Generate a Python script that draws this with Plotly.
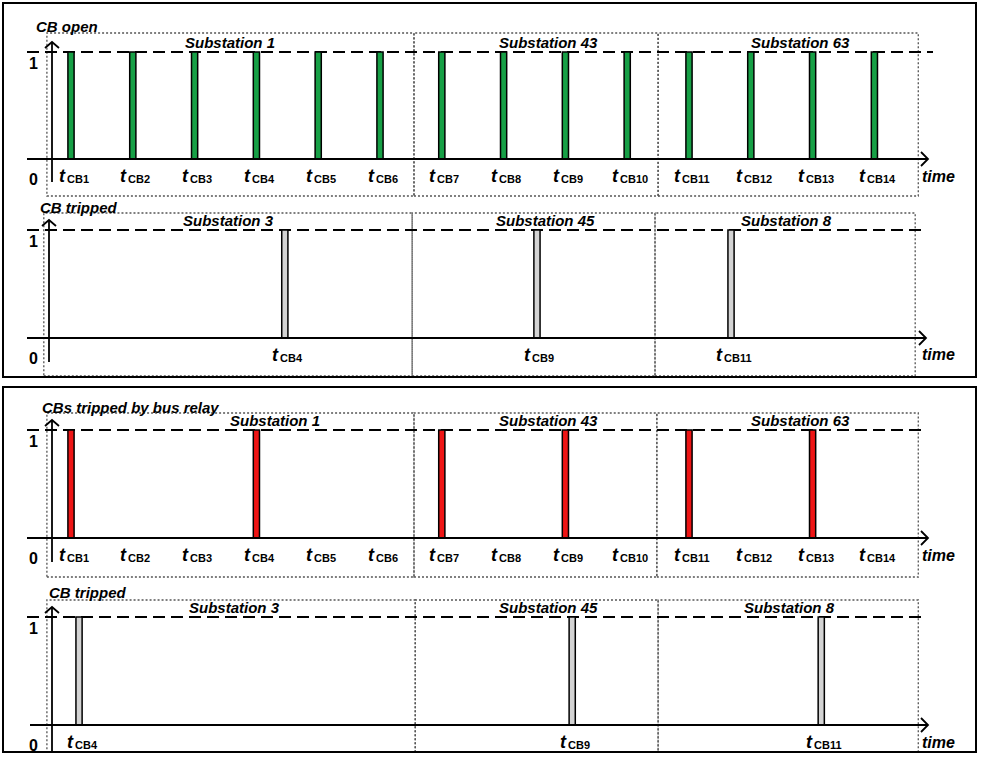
import plotly.graph_objects as go

W, H = 981, 766

# ---------------- data ----------------
cb_times = [1, 2, 3, 4, 5, 6, 7, 8, 9, 10, 11, 12, 13, 14]
cb_labels = ["CB1", "CB2", "CB3", "CB4", "CB5", "CB6", "CB7",
             "CB8", "CB9", "CB10", "CB11", "CB12", "CB13", "CB14"]

open_times = [1, 2, 3, 4, 5, 6, 7, 8, 9, 10, 11, 12, 13, 14]
open_values = [1, 1, 1, 1, 1, 1, 1, 1, 1, 1, 1, 1, 1, 1]

trip1_times = [4.46, 8.54, 11.68]
trip1_values = [1, 1, 1]
trip1_labels = ["CB4", "CB9", "CB11"]

relay_times = [1, 4, 7, 9, 11, 13]
relay_values = [1, 1, 1, 1, 1, 1]

trip2_times = [1.13, 9.11, 13.14]
trip2_values = [1, 1, 1]
trip2_labels = ["CB4", "CB9", "CB11"]

subs_open = ["Substation 1", "Substation 43", "Substation 63"]
subs_trip = ["Substation 3", "Substation 45", "Substation 8"]
# substation time spans (edges, in time units)
spans_p1 = [0.61, 6.55, 10.50, 14.71]
spans_p2 = [0.56, 6.52, 10.45, 14.66]
spans_p3 = [0.61, 6.55, 10.48, 14.71]
spans_p4 = [0.61, 6.57, 10.50, 14.71]

# ---------------- geometry ----------------
X0, DX = 71, 61.8


def t_of(px):
    return 1 + (px - X0) / DX


FONT = "Liberation Sans, Arial, Helvetica, sans-serif"
GREEN = "#17a046"
RED = "#ee1515"
GRAY = "#d3d3d3"

panels = [
    dict(B=159, T=52, box_top=33, box_bot=196, ax_x=52, ax_bot=182, arr_tip=928,
         dash_end=933, label="CB open", label_x=34, label_y=26,
         times=open_times, values=open_values, color=GREEN,
         lab_times=cb_times, labs=cb_labels, spans=spans_p1, subs=subs_open,
         sub_x=[230, 548, 800], sub_y=42, time_y=176),
    dict(B=338, T=230, box_top=213, box_bot=376, ax_x=49, ax_bot=362, arr_tip=926,
         dash_end=921, label="CB tripped", label_x=38, label_y=207,
         times=trip1_times, values=trip1_values, color=GRAY,
         lab_times=trip1_times, labs=trip1_labels, spans=spans_p2, subs=subs_trip,
         sub_x=[228, 545, 786], sub_y=220, time_y=354),
    dict(B=538, T=430, box_top=413, box_bot=577, ax_x=52, ax_bot=562, arr_tip=928,
         dash_end=923, label="CBs tripped by bus relay", label_x=40, label_y=407,
         times=relay_times, values=relay_values, color=RED,
         lab_times=cb_times, labs=cb_labels, spans=spans_p3, subs=subs_open,
         sub_x=[275, 548, 800], sub_y=420, time_y=555),
    dict(B=725, T=617, box_top=600, box_bot=752, ax_x=52, ax_bot=752, arr_tip=928,
         dash_end=923, label="CB tripped", label_x=47, label_y=592,
         times=trip2_times, values=trip2_values, color=GRAY,
         lab_times=trip2_times, labs=trip2_labels, spans=spans_p4, subs=subs_trip,
         sub_x=[234, 548, 789], sub_y=607, time_y=742),
]

fig = go.Figure()
shapes = []
annotations = []
layout_axes = {}

for k, p in enumerate(panels, start=1):
    B, T = p["B"], p["T"]
    yname = "y" if k == 1 else f"y{k}"
    ykey = "yaxis" if k == 1 else f"yaxis{k}"

    def v_of(py, B=B, T=T):
        return (B - py) / (B - T)

    ax = dict(range=[v_of(H), v_of(0)], domain=[0, 1], visible=False, fixedrange=True)
    if k > 1:
        ax["overlaying"] = "y"
    layout_axes[ykey] = ax

    fig.add_trace(go.Bar(
        x=p["times"], y=p["values"], base=0, width=0.1,
        xaxis="x", yaxis=yname,
        marker=dict(color=p["color"], line=dict(color="black", width=1.5)),
        showlegend=False, hoverinfo="skip"))

    # dotted substation boxes
    sp = p["spans"]
    for i in range(3):
        shapes.append(dict(type="rect", xref="x", yref=yname,
                           x0=sp[i], x1=sp[i + 1],
                           y0=v_of(p["box_bot"]), y1=v_of(p["box_top"]),
                           line=dict(color="#555555", width=1.3, dash="2px,2px"),
                           layer="below"))
        annotations.append(dict(xref="x", yref=yname, x=t_of(p["sub_x"][i]),
                                y=v_of(p["sub_y"]), text=f"<b><i>{p['subs'][i]}</i></b>",
                                showarrow=False, xanchor="center", yanchor="middle",
                                font=dict(family=FONT, size=15, color="black")))

    # dashed level-1 line
    shapes.append(dict(type="line", xref="x", yref=yname,
                       x0=t_of(27), x1=t_of(p["dash_end"]), y0=1, y1=1,
                       line=dict(color="black", width=2, dash="12px,6px"),
                       layer="below"))
    # time axis
    shapes.append(dict(type="line", xref="x", yref=yname,
                       x0=t_of(27 if k < 4 else 30), x1=t_of(p["arr_tip"]), y0=0, y1=0,
                       line=dict(color="black", width=1.8), layer="above"))
    tip = p["arr_tip"]
    shapes.append(dict(type="path", xref="x", yref=yname,
                       path=f"M {t_of(tip - 7)},{v_of(B - 7)} L {t_of(tip)},0 L {t_of(tip - 7)},{v_of(B + 7)}",
                       line=dict(color="black", width=1.8), layer="above"))
    # vertical axis
    axx = p["ax_x"]
    top_px = T - 10
    shapes.append(dict(type="line", xref="x", yref=yname,
                       x0=t_of(axx), x1=t_of(axx), y0=v_of(p["ax_bot"]), y1=v_of(top_px),
                       line=dict(color="black", width=1.8), layer="above"))
    shapes.append(dict(type="path", xref="x", yref=yname,
                       path=f"M {t_of(axx - 7)},{v_of(top_px + 6)} L {t_of(axx)},{v_of(top_px)} L {t_of(axx + 7)},{v_of(top_px + 6)}",
                       line=dict(color="black", width=1.8), layer="above"))

    # panel label
    annotations.append(dict(xref="x", yref=yname, x=t_of(p["label_x"]), y=v_of(p["label_y"]),
                            text=f"<b><i>{p['label']}</i></b>", showarrow=False,
                            xanchor="left", yanchor="middle",
                            font=dict(family=FONT, size=15, color="black")))
    # 1 and 0 tick labels
    for val, py in ((1, T + 11), (0, B + 20)):
        annotations.append(dict(xref="x", yref=yname, x=t_of(33), y=v_of(py),
                                text=f"<b>{val}</b>", showarrow=False,
                                xanchor="center", yanchor="middle",
                                font=dict(family=FONT, size=16, color="black")))
    # time label
    annotations.append(dict(xref="x", yref=yname, x=t_of(938), y=v_of(p["time_y"]),
                            text="<b><i>time</i></b>", showarrow=False,
                            xanchor="center", yanchor="middle",
                            font=dict(family=FONT, size=16, color="black")))
    # event labels: italic "t" + subscript "CBn" as two texts joined at one point
    for tt, lab in zip(p["lab_times"], p["labs"]):
        shift = (4.5 if len(lab) == 3 else 7.0) / DX
        j = tt - shift
        annotations.append(dict(xref="x", yref=yname, x=j, y=v_of(B + 17),
                                text="<b><i>t</i></b>", showarrow=False,
                                xanchor="right", yanchor="middle", xshift=1,
                                font=dict(family=FONT, size=18, color="black")))
        annotations.append(dict(xref="x", yref=yname, x=j, y=v_of(B + 20),
                                text=f"<b>{lab}</b>", showarrow=False,
                                xanchor="left", yanchor="middle", xshift=-2,
                                font=dict(family=FONT, size=11, color="black")))

# outer frames
for (y0, y1) in ((3, 377), (387, 752)):
    shapes.append(dict(type="rect", xref="paper", yref="paper",
                       x0=3 / W, x1=976 / W, y0=1 - y1 / H, y1=1 - y0 / H,
                       line=dict(color="black", width=2), layer="above"))

fig.update_layout(
    width=W, height=H,
    margin=dict(l=0, r=0, t=0, b=0),
    paper_bgcolor="white", plot_bgcolor="white",
    barmode="overlay",
    xaxis=dict(range=[t_of(0), t_of(W)], domain=[0, 1], visible=False, fixedrange=True),
    shapes=shapes, annotations=annotations,
    showlegend=False,
    **layout_axes,
)

fig.write_html("out.html", config={"displayModeBar": False},
               post_script="document.body.style.margin='0';document.body.style.overflow='hidden';")
